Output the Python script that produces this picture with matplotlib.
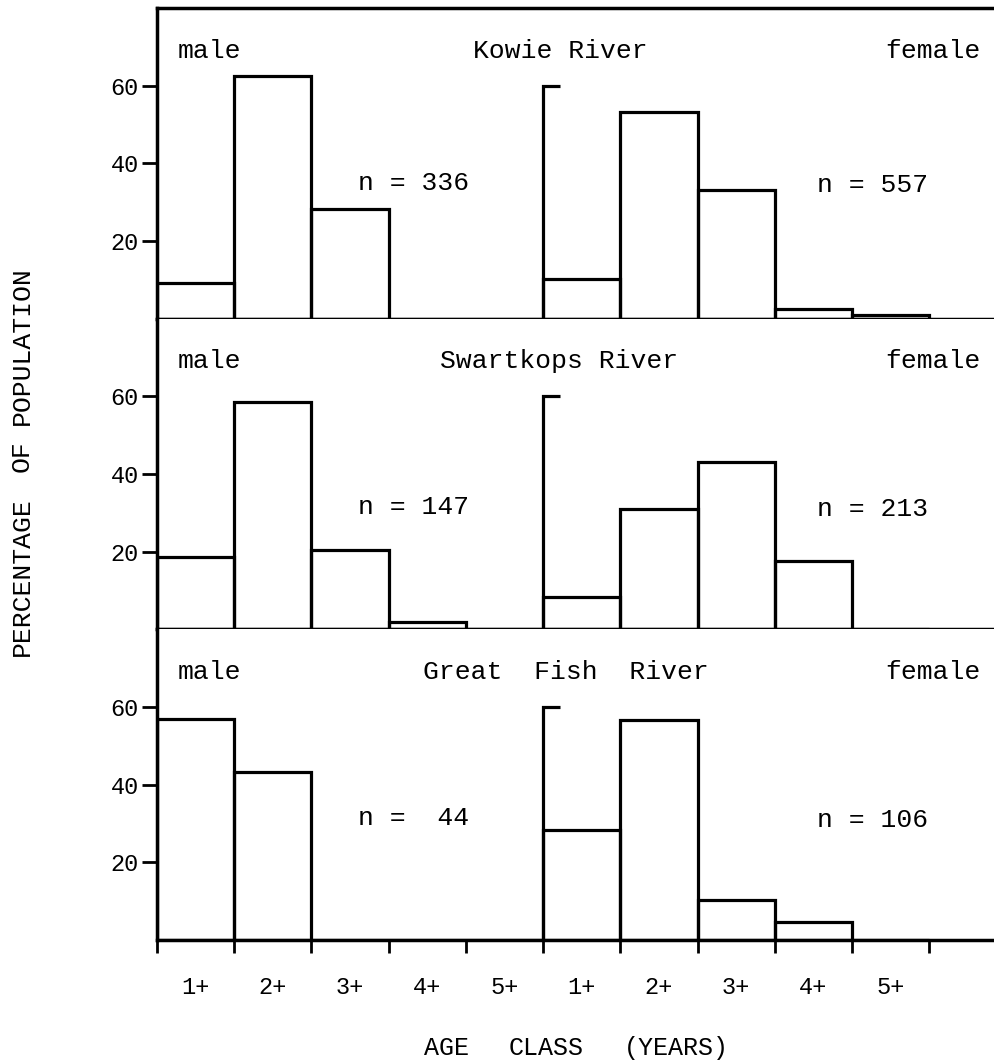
import matplotlib.pyplot as plt
import numpy as np

# age-class composition (% of population) for each river
rivers = ['Kowie River', 'Swartkops River', 'Great  Fish  River']
age_classes = ['1+', '2+', '3+', '4+', '5+']
male_pct = [
    [9.2, 62.5, 28.3, 0.0, 0.0],
    [18.5, 58.5, 20.4, 2.0, 0.0],
    [56.8, 43.2, 0.0, 0.0, 0.0],
]
female_pct = [
    [10.1, 53.3, 33.1, 2.6, 0.9],
    [8.2, 31.0, 43.2, 17.6, 0.0],
    [28.3, 56.6, 10.4, 4.7, 0.0],
]
male_n = [336, 147, 44]
female_n = [557, 213, 106]

yticks = [20, 40, 60]
river_x = [4.09, 3.67, 3.45]
n_y = [35, 31.5, 31.5]

mono = 'Liberation Mono'
lw = 2.3

fig = plt.figure(figsize=(9.94, 10.62), dpi=100)
gs = fig.add_gridspec(3, 1, left=0.158, right=1.0, top=0.9925, bottom=0.1149,
                      hspace=0)

nb = len(age_classes)
x_male = np.arange(nb)
x_female = np.arange(nb) + nb

for i, river in enumerate(rivers):
    ax = fig.add_subplot(gs[i])
    ax.bar(x_male, male_pct[i], width=1, align='edge', fill=False,
           edgecolor='black', linewidth=lw)
    ax.bar(x_female, female_pct[i], width=1, align='edge', fill=False,
           edgecolor='black', linewidth=lw)
    # second y axis for the female histogram, drawn up to the 60 mark
    top = yticks[-1]
    ax.plot([nb, nb, nb + 0.22], [0, top, top], color='black', lw=lw,
            solid_capstyle='butt', solid_joinstyle='miter')

    ax.set_xlim(0, 10.84)
    ax.set_ylim(0, 80)
    for s in ['left', 'top', 'bottom']:
        ax.spines[s].set_linewidth(2.5)
    ax.spines['right'].set_visible(False)
    if i > 0:
        ax.spines['top'].set_visible(False)

    ax.set_yticks(yticks)
    ax.set_yticklabels([str(t) for t in yticks], fontfamily=mono, fontsize=17)
    ax.tick_params(axis='y', direction='out', length=11, width=2, pad=2)

    ax.text(0.27, 69, 'male', fontfamily=mono, fontsize=19, va='center')
    ax.text(river_x[i], 69, river, fontfamily=mono, fontsize=19, va='center')
    ax.text(10.66, 69, 'female', fontfamily=mono, fontsize=19, va='center',
            ha='right')
    ax.text(2.6, n_y[i], f'n = {male_n[i]:>3}', fontfamily=mono, fontsize=19,
            va='center')
    ax.text(8.55, n_y[i] - 0.5, f'n = {female_n[i]:>3}', fontfamily=mono,
            fontsize=19, va='center')

    if i < 2:
        ax.set_xticks([])
    else:
        ax.set_xticks(np.arange(2 * nb + 1))
        ax.set_xticklabels([])
        ax.tick_params(axis='x', which='major', direction='out', length=9,
                       width=2)
        ax.set_xticks(np.arange(2 * nb) + 0.5, minor=True)
        ax.set_xticklabels(age_classes * 2, minor=True, fontfamily=mono,
                           fontsize=17)
        ax.tick_params(axis='x', which='minor', length=0, pad=26)

# axis titles
for word, yc in [('POPULATION', 346), ('OF', 456), ('PERCENTAGE', 577)]:
    fig.text(22 / 994, 1 - yc / 1062, word, rotation=90, fontfamily=mono,
             fontsize=19, ha='center', va='center')
for word, xc in [('AGE', 447), ('CLASS', 546), ('(YEARS)', 676)]:
    fig.text(xc / 994, 1 - 1048 / 1062, word, fontfamily=mono, fontsize=18,
             ha='center', va='center')

fig.savefig('out.png', dpi=100)
